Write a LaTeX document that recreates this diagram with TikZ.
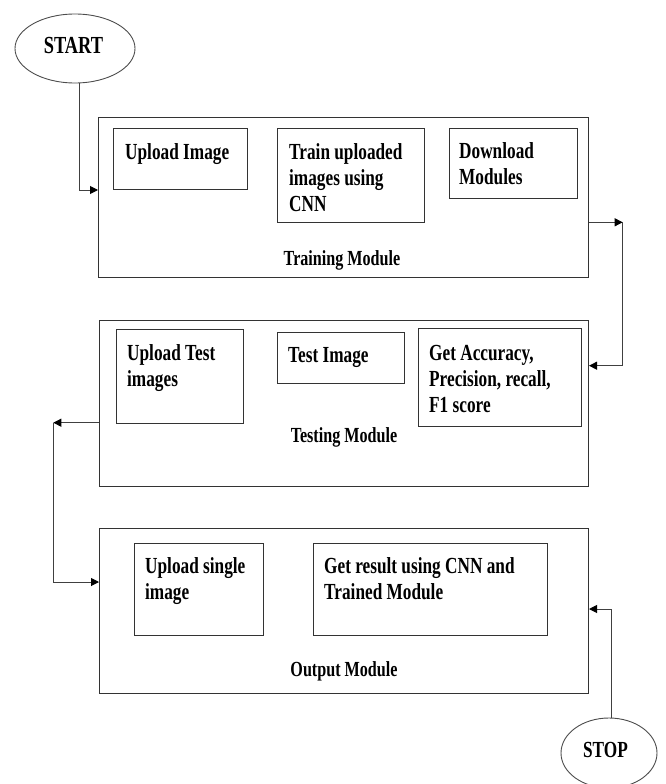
\documentclass[tikz,border=0pt]{standalone}
\usepackage{fontspec}
\setmainfont{Liberation Serif}[FakeStretch=0.75]
\usetikzlibrary{arrows.meta,shapes.geometric}
\begin{document}
\begin{tikzpicture}[x=1pt,y=-1pt,
 box/.style={draw=black!80,line width=1pt,rectangle,inner sep=0pt,anchor=north west},
 txt/.style={anchor=base west,inner sep=0pt,text width=240pt,align=flush left,font=\fontsize{23}{26}\selectfont\bfseries},
 modlabel/.style={anchor=base,inner sep=0pt,font=\fontsize{21.5}{24}\selectfont\bfseries},
 term/.style={draw=black!70,line width=0.9pt,ellipse,inner sep=0pt},
 conn/.style={draw=black!75,line width=1pt},
 arr/.style={conn,-{Triangle[length=8pt,width=8pt,color=black]}}]
\useasboundingbox (0,0) rectangle (665,784);

% terminals
\node[term,minimum width=120pt,minimum height=69pt] (start) at (75,48.5) {};
\node[font=\fontsize{24.5}{28}\selectfont\bfseries,inner sep=0pt,anchor=base] (starttxt) at (73.5,54) {START};
\node[term,minimum width=96pt,minimum height=70pt] (stop) at (609,753) {};
\node[font=\fontsize{23}{26}\selectfont\bfseries,inner sep=0pt,anchor=base] (stoptxt) at (605.5,757) {STOP};

% module boxes
\node[box,minimum width=490pt,minimum height=160pt] (train) at (98,117) {};
\node[box,minimum width=489pt,minimum height=166pt] (test) at (99,320) {};
\node[box,minimum width=489pt,minimum height=165pt] (out) at (99,528) {};

% inner boxes
\node[box,minimum width=134pt,minimum height=61pt] (ui) at (113,128) {};
\node[box,minimum width=147pt,minimum height=94pt] (tu) at (277,128) {};
\node[box,minimum width=128pt,minimum height=70pt] (dm) at (449,128) {};
\node[box,minimum width=127pt,minimum height=94pt] (ut) at (116,329) {};
\node[box,minimum width=127pt,minimum height=51pt] (ti) at (277,332) {};
\node[box,minimum width=163pt,minimum height=98pt] (ga) at (418,328) {};
\node[box,minimum width=129pt,minimum height=92pt] (us) at (134,543) {};
\node[box,minimum width=234pt,minimum height=92pt] (gr) at (313,543) {};

% texts
\node[txt] (uitxt) at ([shift={(12,31)}]ui.north west) {Upload Image};
\node[txt] (tutxt) at ([shift={(12,31)}]tu.north west) {Train uploaded\\images using\\CNN};
\node[txt] (dmtxt) at ([shift={(10,30)}]dm.north west) {Download\\Modules};
\node[txt] (uttxt) at ([shift={(11,31)}]ut.north west) {Upload Test\\images};
\node[txt] (titxt) at ([shift={(11,30)}]ti.north west) {Test Image};
\node[txt] (gatxt) at ([shift={(11,32)}]ga.north west) {Get Accuracy,\\Precision, recall,\\F1 score};
\node[txt] (ustxt) at ([shift={(11,30)}]us.north west) {Upload single\\image};
\node[txt] (grtxt) at ([shift={(11,30)}]gr.north west) {Get result using CNN and\\Trained Module};

\node[modlabel] (trainlbl) at (342,265) {Training Module};
\node[modlabel] (testlbl) at (344,442) {Testing Module};
\node[modlabel] (outlbl) at (344,676) {Output Module};

% connector helper points
\coordinate (j1) at (0,190);
\coordinate (r1) at (622.7,222.3);
\coordinate (r2) at (0,365.7);
\coordinate (l1) at (53.3,422.7);
\coordinate (l2) at (0,582);
\coordinate (j4) at (0,609);

% connectors
\draw[arr] (start.-83) |- (train.west |- j1);
\draw[arr] (train.east |- r1) -- (r1);
\draw[arr] (r1) |- (test.east |- r2);
\draw[arr] (test.west |- l1) -- (l1);
\draw[arr] (l1) |- (out.west |- l2);
\draw[arr] (stop.86) |- (out.east |- j4);
\end{tikzpicture}
\end{document}
